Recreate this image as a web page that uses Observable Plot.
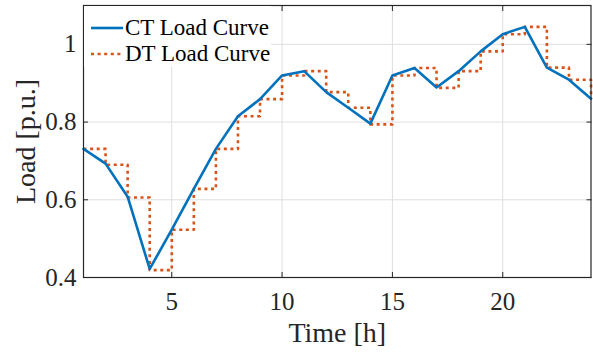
<!DOCTYPE html>
<html>
<head>
<meta charset="utf-8">
<script src="https://cdn.jsdelivr.net/npm/d3@7"></script>
<script src="https://cdn.jsdelivr.net/npm/@observablehq/plot@0.6"></script>
<style>
  body { margin: 0; background: #fff; }
  #wrap { position: relative; width: 593px; height: 352px; }
  #legend { position: absolute; left: 84px; top: 6px; width: 187px; height: 61px; background: #fff;
            font-family: "Liberation Serif", "Times New Roman", serif; font-size: 23px; color: #000; }
  #legend .row { position: absolute; left: 0; height: 26px; display: flex; align-items: center; }
  #legend svg { margin-left: 7px; margin-right: 2px; }
</style>
</head>
<body>
<div id="wrap">
  <div id="chart"></div>
  <div id="legend"></div>
</div>
<script>
// ---- data ----
const hours = [1, 2, 3, 4, 5, 6, 7, 8, 9, 10, 11, 12, 13, 14, 15, 16, 17, 18, 19, 20, 21, 22, 23, 24];
const ctLoad = [0.731, 0.693, 0.608, 0.422, 0.523, 0.628, 0.731, 0.815, 0.859, 0.920, 0.931, 0.877,
                0.837, 0.796, 0.920, 0.939, 0.889, 0.931, 0.982, 1.026, 1.045, 0.940, 0.909, 0.860];
const dtLoad = [0.731, 0.690, 0.606, 0.419, 0.523, 0.628, 0.731, 0.815, 0.859, 0.920, 0.931, 0.877,
                0.837, 0.794, 0.920, 0.939, 0.888, 0.931, 0.982, 1.026, 1.045, 0.940, 0.909, 0.860];
const xTicks = [5, 10, 15, 20];
const yTicks = [0.4, 0.6, 0.8, 1];
const seriesNames = ["CT Load Curve", "DT Load Curve"];
const seriesColors = ["#0072BD", "#D95319"];

const ct = hours.map((h, i) => ({hour: h, load: ctLoad[i]}));
const dt = hours.map((h, i) => ({hour: h, load: dtLoad[i]}));

const gridStyle = {stroke: "#dfdfdf", strokeOpacity: 1, strokeWidth: 1};

const chart = Plot.plot({
  width: 593,
  height: 352,
  marginLeft: 83,
  marginRight: 2.5,
  marginTop: 5,
  marginBottom: 75,
  style: {fontFamily: "'Liberation Serif', 'Times New Roman', serif", fontSize: "25px", color: "#262626", background: "#fff"},
  x: {domain: [1, 24]},
  y: {domain: [0.4, 1.1]},
  marks: [
    Plot.gridX(xTicks, gridStyle),
    Plot.gridY(yTicks, gridStyle),
    Plot.line(dt, {x: "hour", y: "load", curve: "step-after", stroke: seriesColors[1], strokeWidth: 2.6,
                   strokeDasharray: "3,3.6", strokeLinecap: "butt"}),
    Plot.line(ct, {x: "hour", y: "load", stroke: seriesColors[0], strokeWidth: 2.6}),
    Plot.frame({stroke: "#262626", strokeWidth: 1.2}),
    Plot.axisX(xTicks, {anchor: "bottom", tickSize: -5, tickPadding: 20, label: null, stroke: "#262626"}),
    Plot.axisX(xTicks, {anchor: "top", tickSize: -5, tickFormat: () => "", label: null, stroke: "#262626"}),
    Plot.axisY(yTicks, {anchor: "left", tickSize: -5, tickPadding: 12, tickFormat: d => String(d), label: null, stroke: "#262626"}),
    Plot.axisY(yTicks, {anchor: "right", tickSize: -5, tickFormat: () => "", label: null, stroke: "#262626"}),
    Plot.text(["Time [h]"], {text: d => d, frameAnchor: "bottom", textAnchor: "middle", lineAnchor: "middle",
                             dy: 55.5, fontSize: 28, fill: "#262626"}),
    Plot.text(["Load [p.u.]"], {text: d => d, frameAnchor: "left", textAnchor: "middle", lineAnchor: "middle",
                                rotate: -90, dx: -57, fontSize: 28, fill: "#262626"})
  ]
});
document.getElementById("chart").appendChild(chart);

// ---- legend (inside the axes, top-left) ----
const legend = document.getElementById("legend");
seriesNames.forEach((name, i) => {
  const row = document.createElement("div");
  row.className = "row";
  row.style.top = (i === 0 ? 8.7 : 35.3) + "px";
  const dash = i === 0 ? "" : 'stroke-dasharray="3,3.6"';
  row.innerHTML = `<svg width="32" height="6"><line x1="0" y1="3" x2="32" y2="3" stroke="${seriesColors[i]}" stroke-width="2.6" ${dash}/></svg><span>${name}</span>`;
  legend.appendChild(row);
});
</script>
</body>
</html>
